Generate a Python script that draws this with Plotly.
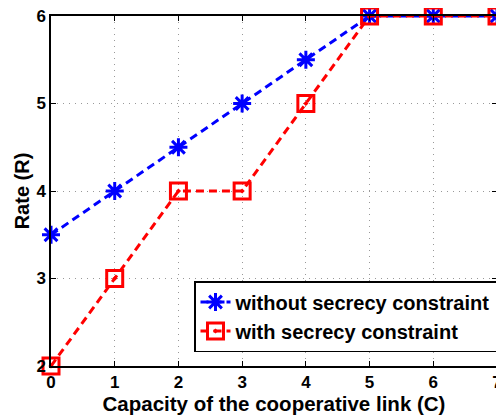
import plotly.graph_objects as go

capacity = [0, 1, 2, 3, 4, 5, 6, 7]
rate_without = [3.5, 4, 4.5, 5, 5.5, 6, 6, 6]
rate_with = [2, 3, 4, 4, 5, 6, 6, 6]
x_ticks = [0, 1, 2, 3, 4, 5, 6, 7]
y_ticks = [2, 3, 4, 5, 6]

fig = go.Figure()
fig.add_trace(go.Scatter(
    x=capacity, y=rate_without, mode="lines+markers",
    name="<b>without secrecy constraint</b>",
    line=dict(color="#0000ff", width=3, dash="8px,5px"),
    marker=dict(symbol="asterisk-open", size=15, color="#0000ff",
                line=dict(color="#0000ff", width=3)),
    cliponaxis=False,
))
fig.add_trace(go.Scatter(
    x=capacity, y=rate_with, mode="lines+markers",
    name="<b>with secrecy constraint</b>",
    line=dict(color="#ff0000", width=3, dash="8px,5px"),
    marker=dict(symbol="square-open-dot", size=16, color="#ff0000",
                line=dict(color="#ff0000", width=3)),
    cliponaxis=False,
))

axis_common = dict(
    showline=True, linecolor="black", linewidth=1.5, mirror="ticks",
    ticks="inside", ticklen=5, tickcolor="black",
    showgrid=True, gridcolor="#999999", griddash="1px,5px", gridwidth=1,
    zeroline=False, automargin=False, ticklabeloverflow="allow",
    tickfont=dict(family="Liberation Sans", size=17, color="black"),
)

fig.update_layout(
    width=496, height=409,
    margin=dict(l=43, r=7, t=8, b=51),
    paper_bgcolor="white", plot_bgcolor="white",
    font=dict(family="Liberation Sans", color="black"),
    xaxis=dict(range=[0, 7], tickvals=x_ticks,
               ticktext=[f"<b>{v}</b>" for v in x_ticks],
               title=dict(text="<b>Capacity of the cooperative link (C)</b>",
                          font=dict(size=20.5), standoff=0),
               **axis_common),
    yaxis=dict(range=[2, 6], tickvals=y_ticks,
               ticktext=[f"<b>{v}</b>" for v in y_ticks],
               title=dict(text="<b>Rate (R)</b>", font=dict(size=20), standoff=1),
               **axis_common),
    legend=dict(x=1, y=0.04, xanchor="right", yanchor="bottom",
                bgcolor="white", bordercolor="black", borderwidth=1.5,
                font=dict(size=20),
                itemwidth=30, tracegroupgap=0),
    showlegend=True,
)

fig.write_html("out.html")
